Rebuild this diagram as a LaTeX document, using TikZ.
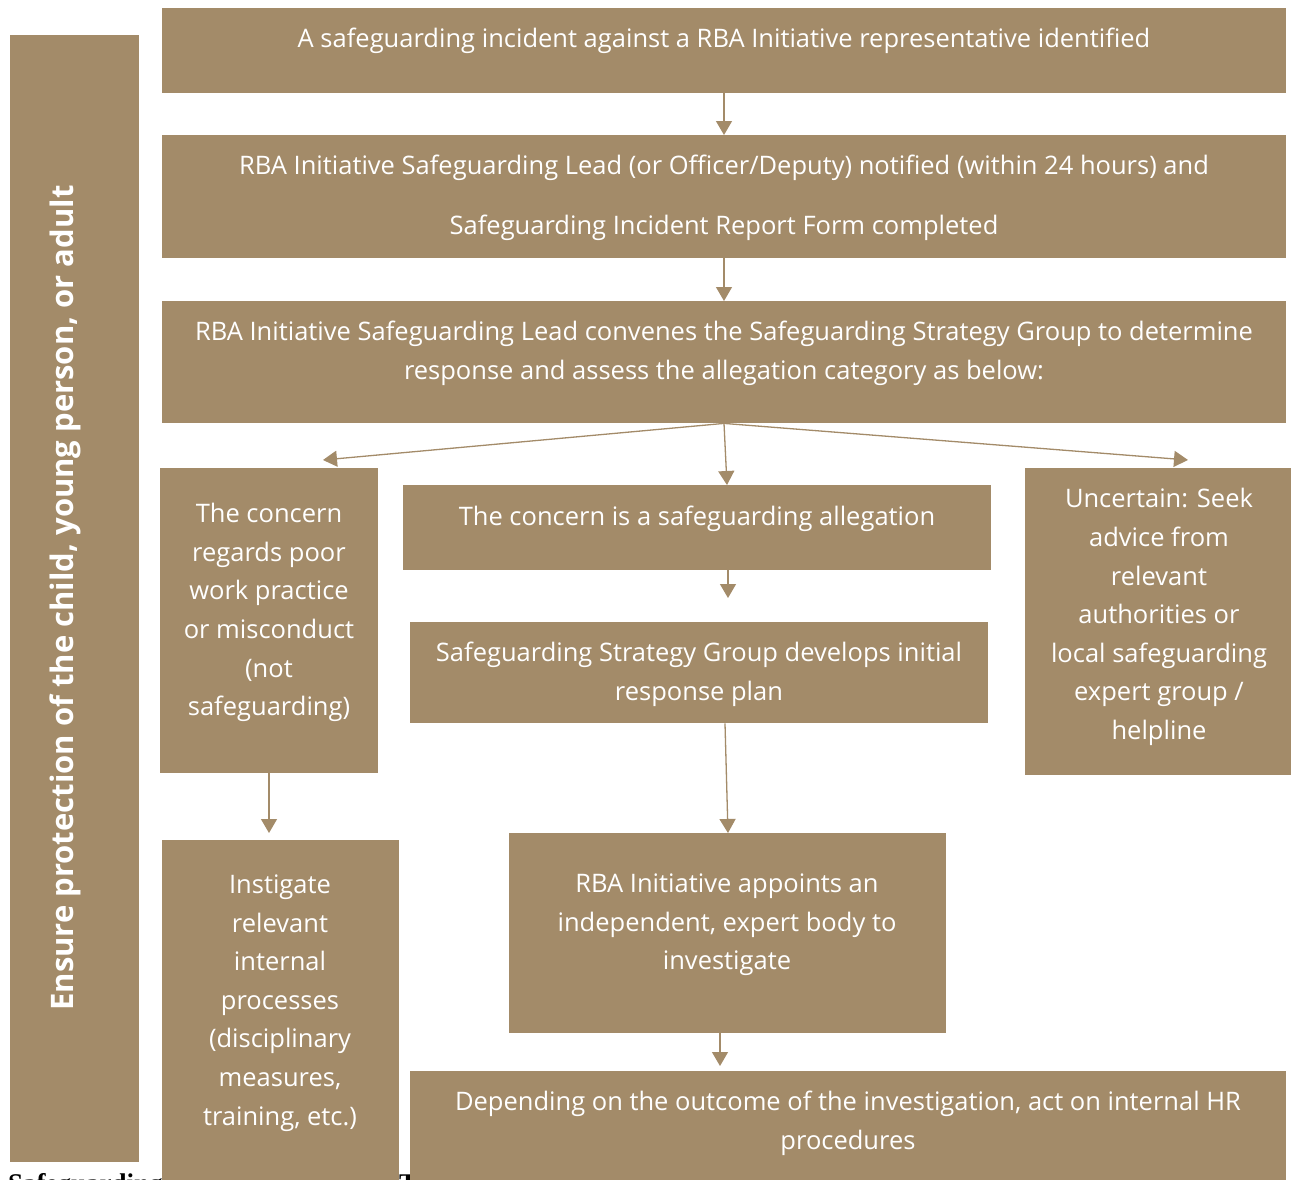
\documentclass[tikz,border=0pt]{standalone}
\usepackage{fontspec}
\setmainfont{Open Sans}
\newfontfamily\serifbold{Liberation Serif}
\usetikzlibrary{arrows.meta}
\definecolor{gold}{RGB}{163,139,105}
\tikzset{
  box/.style={fill=gold, draw=none, inner sep=0pt, anchor=north west},
  txt/.style={text=white, align=center, inner sep=0pt, font=\fontsize{25.5}{38.6}\selectfont},
  conn/.style={draw=gold, line width=1.3pt, -{Triangle[length=14pt,width=16pt]}},
}
\newcommand{\bx}[5]{\node[box, minimum width=#3pt, minimum height=#4pt] (#5) at (#1,#2) {};}
\begin{document}
\begin{tikzpicture}[x=1pt,y=-1pt]
\useasboundingbox (0,0) rectangle (1291,1179);
\begin{scope}
\clip (0,0) rectangle (1291,1179);
% partially hidden caption text
\node[anchor=base west, inner sep=0pt, font=\serifbold\bfseries\fontsize{27}{30}\selectfont] (cap1) at (8,1192) {Safeguarding};
\node[anchor=base west, inner sep=0pt, font=\serifbold\bfseries\fontsize{27}{30}\selectfont] (cap2) at (399,1192) {T};
% sidebar
\bx{10}{35}{129}{1127}{side}
\node[text=white, rotate=90, inner sep=0pt, font=\bfseries\fontsize{31}{36}\selectfont] (sidet) at (65,598) {Ensure protection of the child, young person, or adult};
% boxes
\bx{162}{8}{1124}{85}{b1}
\bx{162}{135}{1124}{123}{b2}
\bx{162}{301}{1124}{122}{b3}
\bx{160}{468}{218}{305}{b4}
\bx{403}{485}{588}{85}{b5}
\bx{1025}{468}{266}{307}{b6}
\bx{410}{622}{578}{101}{b7}
\bx{162}{840}{237}{360}{b8}
\bx{509}{833}{437}{200}{b9}
\bx{410}{1071}{876}{130}{b10}
% texts
\node[txt] (t1) at (724,41) {A safeguarding incident against a RBA Initiative representative identified};
\node[txt] (t2a) at (724,168) {RBA Initiative Safeguarding Lead (or Officer/Deputy) notified (within 24 hours) and};
\node[txt] (t2b) at (724,228) {Safeguarding Incident Report Form completed};
\node[txt] (t3) at (724,353.5) {RBA Initiative Safeguarding Lead convenes the Safeguarding Strategy Group to determine\\response and assess the allegation category as below:};
\node[txt] (t4) at (269,612.5) {The concern\\regards poor\\work practice\\or misconduct\\(not\\safeguarding)};
\node[txt] (t5) at (697,519) {The concern is a safeguarding allegation};
\node[txt] (t6) at (1159,617) {Uncertain: Seek\\advice from\\relevant\\authorities or\\local safeguarding\\expert group /\\helpline};
\node[txt] (t7) at (699,674) {Safeguarding Strategy Group develops initial\\response plan};
\node[txt] (t8) at (280,1003) {Instigate\\relevant\\internal\\processes\\(disciplinary\\measures,\\training, etc.)};
\node[txt] (t9) at (727,925) {RBA Initiative appoints an\\independent, expert body to\\investigate};
\node[txt] (t10) at (848,1123) {Depending on the outcome of the investigation, act on internal HR\\procedures};
% free ends
\coordinate (eL) at (323,460);
\coordinate (eR) at (1188,460);
\coordinate (e7) at (728,598);
\coordinate (e8) at (269,833);
\coordinate (e10) at (720,1066);
% connectors
\draw[conn] (b1.south -| 724,0) -- (b2.north -| 724,0);
\draw[conn] (b2.south -| 724,0) -- (b3.north -| 724,0);
\draw[conn] (b3.south -| 724,0) -- (eL);
\draw[conn] (b3.south -| 724,0) -- (b5.north -| 727,0);
\draw[conn] (b3.south -| 724,0) -- (eR);
\draw[conn] (b5.south -| 728,0) -- (e7);
\draw[conn] (b7.south -| 725,0) -- (b9.north -| 728,0);
\draw[conn] (b4.south -| 269,0) -- (e8);
\draw[conn] (b9.south -| 720,0) -- (e10);
\end{scope}
\end{tikzpicture}
\end{document}
